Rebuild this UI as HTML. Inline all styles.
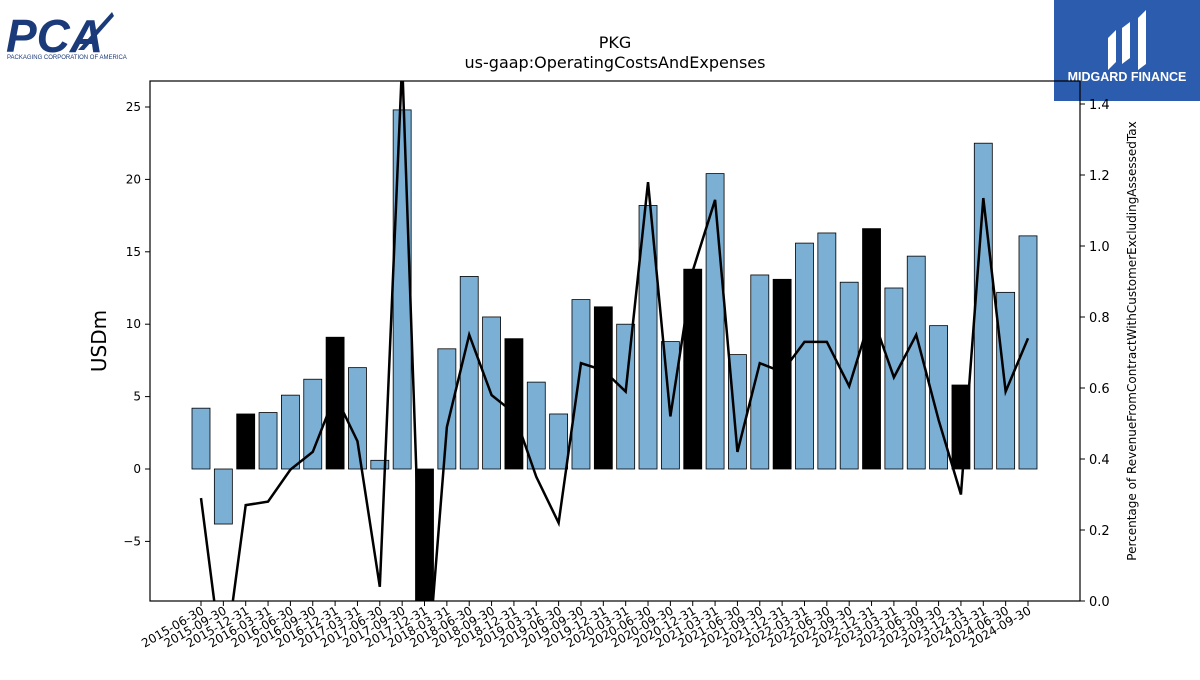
<!DOCTYPE html>
<html><head><meta charset="utf-8"><style>
body{margin:0;background:#fff;width:1200px;height:675px;overflow:hidden;font-family:"Liberation Sans","DejaVu Sans",sans-serif}
</style></head><body>
<svg id="c" width="1200" height="675" xmlns="http://www.w3.org/2000/svg" font-family="DejaVu Sans, Liberation Sans, sans-serif">
<defs><clipPath id="pc"><rect x="150" y="81" width="930" height="520"/></clipPath></defs>
<g>
<text x="6" y="52" font-size="46" font-weight="bold" fill="#1b3a7a" font-family="Liberation Sans, sans-serif" font-style="italic">PCA</text>
<path d="M78 50 L112 12 L114 16 L84 50 Z" fill="#1b3a7a"/>
<text x="7" y="59" font-size="6" fill="#1b3a7a" font-family="Liberation Sans, sans-serif">PACKAGING CORPORATION OF AMERICA</text>
</g>
<g>
<rect x="1054" y="0" width="146" height="101" fill="#2b5cad"/>
<path d="M1108 70 L1108 38 L1116 30 L1116 62 Z M1122 64 L1122 28 L1130 22 L1130 58 Z M1138 70 L1138 18 L1146 10 L1146 64 Z" fill="#fff"/>
<text x="1127" y="81" font-size="12.5" font-weight="bold" fill="#fff" text-anchor="middle" font-family="Liberation Sans, sans-serif">MIDGARD FINANCE</text>
</g>
<text x="615" y="48" font-size="16" text-anchor="middle">PKG</text>
<text x="615" y="68" font-size="16" text-anchor="middle">us-gaap:OperatingCostsAndExpenses</text>
<g id="bars" clip-path="url(#pc)"></g>
<g id="line" clip-path="url(#pc)"></g>
<rect x="150" y="81" width="930" height="520" fill="none" stroke="#000" stroke-width="1.2"/>
<g id="axes"></g>
<text transform="translate(106,341) rotate(-90)" font-size="20" text-anchor="middle">USDm</text>
<text transform="translate(1136,341) rotate(-90)" font-size="12" text-anchor="middle">Percentage of RevenueFromContractWithCustomerExcludingAssessedTax</text>
</svg>
<script>
const categories=["2015-06-30","2015-09-30","2015-12-31","2016-03-31","2016-06-30","2016-09-30","2016-12-31","2017-03-31","2017-06-30","2017-09-30","2017-12-31","2018-03-31","2018-06-30","2018-09-30","2018-12-31","2019-03-31","2019-06-30","2019-09-30","2019-12-31","2020-03-31","2020-06-30","2020-09-30","2020-12-31","2021-03-31","2021-06-30","2021-09-30","2021-12-31","2022-03-31","2022-06-30","2022-09-30","2022-12-31","2023-03-31","2023-06-30","2023-09-30","2023-12-31","2024-03-31","2024-06-30","2024-09-30"];
const barValues=[4.2,-3.8,3.8,3.9,5.1,6.2,9.1,7.0,0.6,24.8,-12,8.3,13.3,10.5,9.0,6.0,3.8,11.7,11.2,10.0,18.2,8.8,13.8,20.4,7.9,13.4,13.1,15.6,16.3,12.9,16.6,12.5,14.7,9.9,5.8,22.5,12.2,16.1];
const lineValues=[0.29,-0.2,0.27,0.28,0.37,0.42,0.58,0.45,0.04,1.52,-0.3,0.49,0.75,0.58,0.53,0.35,0.22,0.67,0.65,0.59,1.18,0.52,0.93,1.13,0.42,0.67,0.645,0.73,0.73,0.605,0.81,0.63,0.75,0.51,0.30,1.135,0.59,0.74];
const leftTicks=[-5,0,5,10,15,20,25];
const rightTicks=[0.0,0.2,0.4,0.6,0.8,1.0,1.2,1.4];
const NS="http://www.w3.org/2000/svg";
const L=150,R=1080,T=81,B=601;
const yL=v=>469-v*14.48;
const yR=v=>601-v*355;
const x=i=>201+i*(1028-201)/(categories.length-1);
function mk(tag,attrs,parent){const e=document.createElementNS(NS,tag);for(const k in attrs)e.setAttribute(k,attrs[k]);parent.appendChild(e);return e;}
const bars=document.getElementById('bars'),line=document.getElementById('line'),axes=document.getElementById('axes');
barValues.forEach((v,i)=>{
  const q=categories[i].slice(5,10)==="12-31";
  const y0=yL(0),y1=yL(v);
  const r=mk('rect',{x:x(i)-9,y:Math.min(y0,y1),width:18,height:Math.abs(y1-y0),fill:q?'#000':'#7bafd4',stroke:'#000','stroke-width':0.8},bars);
  
  
});
const p=mk('polyline',{points:lineValues.map((v,i)=>x(i)+','+yR(v)).join(' '),fill:'none',stroke:'#000','stroke-width':2.5},line);


leftTicks.forEach(t=>{
  const y=yL(t);
  mk('line',{x1:L-5,x2:L,y1:y,y2:y,stroke:'#000'},axes);
  const tx=mk('text',{x:L-9,y:y+4,'font-size':12,'text-anchor':'end'},axes);
  tx.textContent=t<0?'\u2212'+Math.abs(t):String(t);
  
  
});
rightTicks.forEach(t=>{
  const y=yR(t);
  mk('line',{x1:R,x2:R+5,y1:y,y2:y,stroke:'#000'},axes);
  const tx=mk('text',{x:R+9,y:y+5,'font-size':13},axes);
  tx.textContent=t.toFixed(1);
  
  
});
categories.forEach((c,i)=>{
  const xx=x(i);
  mk('line',{x1:xx,x2:xx,y1:B,y2:B+5,stroke:'#000'},axes);
  const tx=mk('text',{transform:`translate(${xx+4},${B+12}) rotate(-30)`,'font-size':12,'text-anchor':'end'},axes);
  tx.textContent=c;
  
  
});
</script>
</body></html>
